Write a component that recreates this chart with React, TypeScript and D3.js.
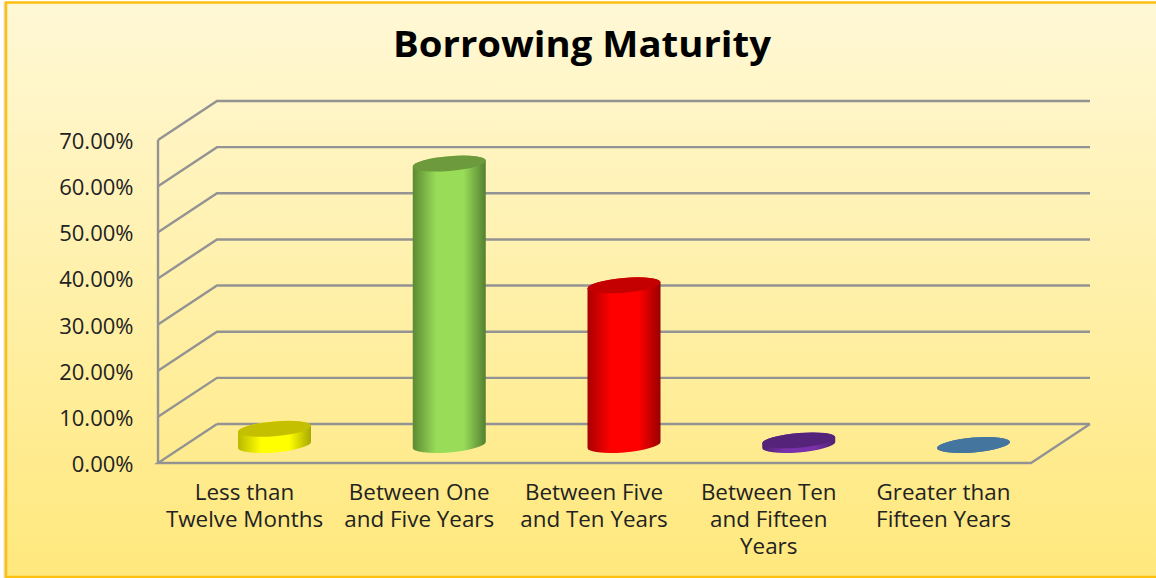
import React from "react";
import * as d3 from "d3";

const categories: string[][] = [
  ["Less than", "Twelve Months"],
  ["Between One", "and Five Years"],
  ["Between Five", "and Ten Years"],
  ["Between Ten", "and Fifteen", "Years"],
  ["Greater than", "Fifteen Years"],
];
const keys = ["lt12", "b1to5", "b5to10", "b10to15", "gt15"];
const shares = [3.5, 61, 34.6, 1, 0];
const ticks = [0, 10, 20, 30, 40, 50, 60, 70];
const topColors = ["#c4c000", "#6c9a3c", "#c40000", "#55237a", "#44759f"];
const sideStops = [
  ["#b9b900", "#ffff00", "#ffff00", "#a8a800"],
  ["#5b8a32", "#98dc58", "#98dc58", "#548030"],
  ["#a80000", "#ff0000", "#ff0000", "#980000"],
  ["#4e2270", "#7a32ac", "#7a32ac", "#4e2270"],
  ["#44759f", "#44759f", "#44759f", "#44759f"],
];

const W = 1156;
const H = 578;
const FONT = "'Open Sans', sans-serif";
const depthX = 59;
const depthY = 39;
const frontLeft = 158;
const frontRight = 1031;
const rx = 36.5;
const ry = 7.4;
const tilt = -4.7;

const y = d3.scaleLinear().domain([0, 70]).range([463, 140]);
const x = d3.scalePoint<string>().domain(keys).range([274.5, 973.5]);

export default function App() {
  const floor = d3.path();
  floor.moveTo(frontLeft + depthX, y(0) - depthY);
  floor.lineTo(frontLeft, y(0));
  floor.lineTo(frontRight, y(0));
  floor.lineTo(frontRight + depthX, y(0) - depthY);

  return (
    <svg
      width={W}
      height={H}
      viewBox={`0 0 ${W} ${H}`}
      style={{ position: "fixed", left: 0, top: 0, display: "block" }}
    >
      <defs>
        <linearGradient id="panel" x1="0" y1="0" x2="0" y2="1">
          <stop offset="0" stopColor="#fff8d6" />
          <stop offset="1" stopColor="#ffe87c" />
        </linearGradient>
        {sideStops.map((s, i) => (
          <linearGradient key={keys[i]} id={`side-${keys[i]}`} x1="0" y1="0" x2="1" y2="0">
            <stop offset="0" stopColor={s[0]} />
            <stop offset="0.32" stopColor={s[1]} />
            <stop offset="0.7" stopColor={s[2]} />
            <stop offset="1" stopColor={s[3]} />
          </linearGradient>
        ))}
      </defs>

      <rect x={0} y={0} width={W} height={H} fill="#ffffff" />
      <rect x={3.5} y={2} width={2} height={H - 2} fill="#e4e0d0" />
      <rect x={6} y={2.5} width={W} height={574.5} fill="url(#panel)" stroke="#fdc010" strokeWidth={2.5} />

      <text
        x={582}
        y={57}
        textAnchor="middle"
        fontFamily={FONT}
        fontWeight={700}
        fontSize={36}
        textLength={378}
        lengthAdjust="spacingAndGlyphs"
        fill="#000"
      >
        Borrowing Maturity
      </text>

      {/* Walls: one diagonal and one back line per tick */}
      <g fill="none" stroke="#939393" strokeWidth={2.4}>
        {ticks.map((t) => (
          <path
            key={t}
            d={
              t === 0
                ? floor.toString()
                : `M${frontLeft},${y(t)}L${frontLeft + depthX},${y(t) - depthY}L${frontRight + depthX},${y(t) - depthY}`
            }
          />
        ))}
        <line x1={frontLeft} x2={frontLeft} y1={y(0) + 1} y2={y(70)} />
        <line x1={frontLeft + depthX} x2={frontRight + depthX} y1={y(0) - depthY} y2={y(0) - depthY} />
      </g>

      <g fontFamily={FONT} fontSize={22} fill="#222" textAnchor="end">
        {ticks.map((t) => (
          <text key={t} x={133.5} y={y(t) + 9}>
            {d3.format(".2f")(t)}%
          </text>
        ))}
      </g>

      {/* Cylinders stand 18px behind the front edge of the floor */}
      {keys.map((k, i) => {
        const base = y(0) - 18;
        const h = base - (y(shares[i]) - 18);
        const body = `M${-rx},0L${-rx},${-h}A${rx},${ry} 0 0 1 ${rx},${-h}L${rx},0A${rx},${ry} 0 0 1 ${-rx},0Z`;
        return (
          <g key={k} transform={`translate(${x(k)},${base}) skewY(${tilt})`}>
            <path d={body} fill={`url(#side-${k})`} />
            <ellipse cx={0} cy={-h} rx={rx} ry={ry} fill={topColors[i]} />
          </g>
        );
      })}

      <g fontFamily={FONT} fontSize={22.4} fill="#222" textAnchor="middle">
        {keys.map((k, i) => (
          <text key={k} x={(x(k) as number) - 30} y={500}>
            {categories[i].map((line, j) => (
              <tspan key={line} x={(x(k) as number) - 30} dy={j === 0 ? 0 : 27}>
                {line}
              </tspan>
            ))}
          </text>
        ))}
      </g>
    </svg>
  );
}
